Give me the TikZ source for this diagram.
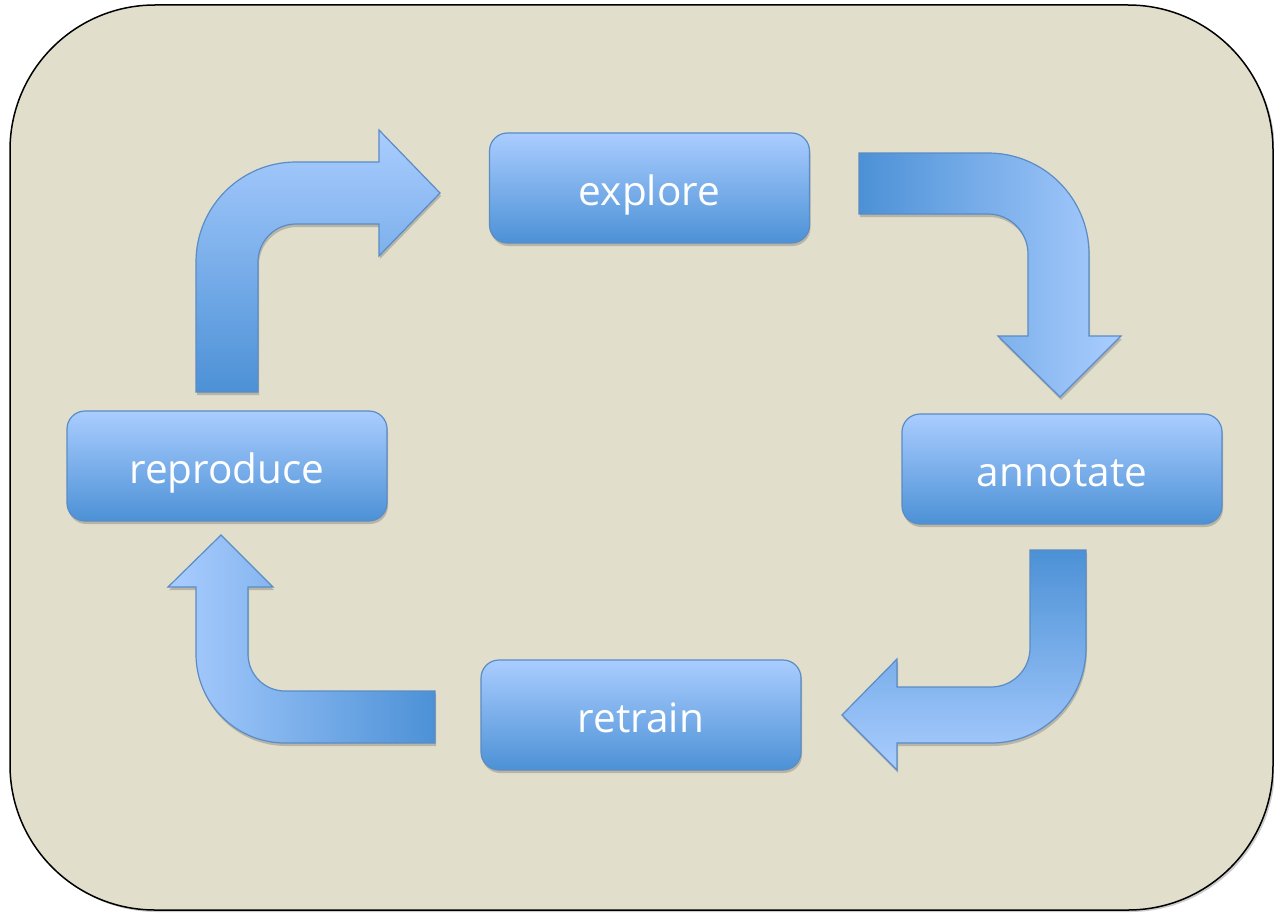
\documentclass[tikz,border=0pt]{standalone}
\usepackage{fontspec}
\setmainfont{Open Sans}
\usetikzlibrary{shadows}
\definecolor{bg}{RGB}{225,222,203}
\definecolor{blight}{RGB}{170,205,255}
\definecolor{bdark}{RGB}{76,145,214}
\definecolor{bline}{RGB}{90,140,198}
\tikzset{
  softshadow/.style={drop shadow={shadow xshift=1pt,shadow yshift=-3pt,opacity=0.18,fill=black}},
  stepbox/.style={draw=bline, line width=1.2pt, rounded corners=18pt,
    top color=blight, bottom color=bdark, minimum width=320pt, minimum height=110pt,
    text height=34pt, text depth=0pt,
    text=white, font=\fontsize{40.5}{48}\selectfont, softshadow},
  blockarrow/.style={draw=bline, line width=1.2pt, softshadow}
}
\begin{document}
\begin{tikzpicture}[x=1pt,y=-1pt]
\useasboundingbox (0,0) rectangle (1274,915);
\draw[fill=bg, line width=1.5pt, rounded corners=145pt,
  drop shadow={shadow xshift=2pt,shadow yshift=-2pt,opacity=0.2,fill=black}]
  (10,5) rectangle (1273,910);

\node[stepbox] (explore) at (649.5,188) {explore};
\node[stepbox] (annotate) at (1062,469) {annotate};
\node[stepbox] (retrain) at (641,715) {retrain};
\node[stepbox] (reproduce) at (227,466) {reproduce};

% reproduce -> explore
\path[blockarrow, top color=blight, bottom color=bdark]
  (196,392) -- (196,262) arc[start angle=180,end angle=270,radius=100]
  -- (379,162) -- (379,130) -- (440,193) -- (379,256) -- (379,224)
  -- (296,224) arc[start angle=270,end angle=180,radius=38]
  -- (258,392) -- cycle;
% explore -> annotate
\path[blockarrow, left color=bdark, right color=blight]
  (859,153) -- (988,153) arc[start angle=270,end angle=360,radius=101]
  -- (1089,336) -- (1121,336) -- (1060,397) -- (998,336) -- (1028,336)
  -- (1028,254) arc[start angle=0,end angle=-90,radius=40]
  -- (859,214) -- cycle;
% annotate -> retrain
\path[blockarrow, top color=bdark, bottom color=blight]
  (1030,550) -- (1086,550) -- (1086,648) arc[start angle=0,end angle=90,radius=95]
  -- (897,743) -- (897,770) -- (842,715) -- (897,659) -- (897,687)
  -- (991,687) arc[start angle=90,end angle=0,radius=39] -- cycle;
% retrain -> reproduce
\path[blockarrow, left color=blight, right color=bdark]
  (435,691) -- (285,691) arc[start angle=90,end angle=180,radius=37]
  -- (248,587) -- (273,587) -- (221,535) -- (168,587) -- (196,587)
  -- (196,654) arc[start angle=180,end angle=90,radius=89]
  -- (435,743) -- cycle;
\end{tikzpicture}
\end{document}
